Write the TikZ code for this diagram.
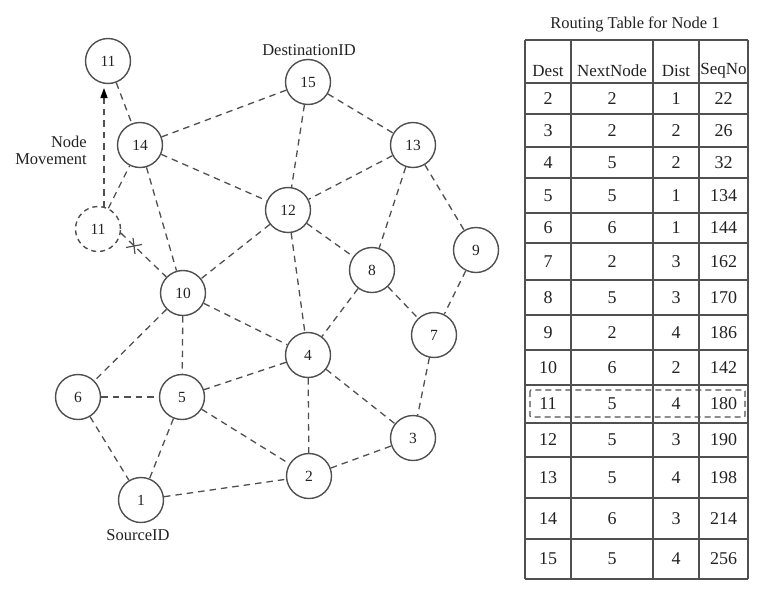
\documentclass[tikz,border=0pt]{standalone}
\usepackage{fontspec}
\setmainfont{Liberation Serif}
\usetikzlibrary{arrows.meta}
\definecolor{ink}{HTML}{222222}
\definecolor{edge}{HTML}{505050}
\begin{document}
\begin{tikzpicture}[x=1pt,y=-1pt,
  host/.style={circle,draw=edge,line width=1.4pt,minimum size=45pt,inner sep=0pt,
    text=ink,font=\fontsize{15.5}{15.5}\selectfont},
  ghost/.style={host,dash pattern=on 5pt off 4pt},
  link/.style={draw=edge,line width=1.3pt,dash pattern=on 6.5pt off 5pt},
  lbl/.style={text=ink,inner sep=0pt,font=\fontsize{16.5}{17}\selectfont},
  cell/.style={text=ink,inner sep=0pt,font=\fontsize{18}{19}\selectfont},
  head/.style={text=ink,inner sep=0pt,font=\fontsize{17}{19}\selectfont},
  rule/.style={draw=edge,line width=1.5pt}
]
\useasboundingbox (0,0) rectangle (770,600);

% ---------- network ----------
\node[host]  (n11)  at (108,61)  {11};
\node[host]  (n14)  at (140,145) {14};
\node[ghost] (n11d) at (98,229)  {11};
\node[host]  (n15)  at (308,82)  {15};
\node[host]  (n13)  at (413,145) {13};
\node[host]  (n12)  at (288,210) {12};
\node[host]  (n9)   at (476,250) {9};
\node[host]  (n8)   at (372,270) {8};
\node[host]  (n10)  at (183,293) {10};
\node[host]  (n7)   at (434,335) {7};
\node[host]  (n4)   at (308,355) {4};
\node[host]  (n6)   at (78,397)  {6};
\node[host]  (n5)   at (182,397) {5};
\node[host]  (n3)   at (413,438) {3};
\node[host]  (n2)   at (309,476) {2};
\node[host]  (n1)   at (141,500) {1};

\foreach \a/\b in {n11/n14, n14/n15, n14/n12, n14/n10, n11d/n14,
                   n15/n12, n15/n13, n13/n12, n13/n8, n13/n9,
                   n12/n10, n12/n8, n12/n4, n8/n4, n8/n7, n9/n7,
                   n10/n4, n10/n6, n10/n5, n4/n5, n4/n2, n4/n3, n7/n3,
                   n6/n5, n6/n1, n5/n1, n5/n2, n1/n2, n2/n3}
  \draw[link] (\a) -- (\b);

% broken link of the moved node, marked with a cross
\draw[link] (n11d.-10) -- (n10);
\coordinate (cut) at (134,246);
\draw[edge,line width=1.2pt]
  ([shift={(-8,1.5)}]cut) -- ([shift={(8,-1.5)}]cut)
  ([shift={(-1,-8)}]cut) -- ([shift={(1,8)}]cut);

% movement of node 11
\coordinate (mvS) at (104,207);
\coordinate (mvE) at (104,88);
\draw[link,-{Triangle[length=10pt,width=7pt,fill=black,color=black]}] (mvS) -- (mvE);
\node[lbl,align=right,anchor=east] (mvlbl) at (87,150) {Node\\Movement};

\node[lbl] (dst) at (309,50)  {DestinationID};
\node[lbl] (src) at (138,535) {SourceID};

% ---------- routing table ----------
\node[lbl] (ttl) at (635,24) {Routing Table for Node 1};

\foreach \y in {40,83,114,147,178,213,243,280,315,350,385,423,457,498,539,579}
  \draw[rule] (525,\y) -- (748,\y);
\foreach \x in {525,571,653,699,748}
  \draw[rule] (\x,40) -- (\x,579);

\node[head] (hD) at (548,71)   {Dest};
\node[head] (hN) at (612,71)   {NextNode};
\node[head] (hS) at (676,71)   {Dist};
\node[head] (hQ) at (723.5,71) {SeqNo};

\foreach \d/\nh/\ds/\sq/\ya/\yb in {
    2/2/1/22/83/114, 3/2/2/26/114/147, 4/5/2/32/147/178,
    5/5/1/134/178/213, 6/6/1/144/213/243, 7/2/3/162/243/280,
    8/5/3/170/280/315, 9/2/4/186/315/350, 10/6/2/142/350/385,
    11/5/4/180/385/423, 12/5/3/190/423/457, 13/5/4/198/457/498,
    14/6/3/214/498/539, 15/5/4/256/539/579}{
  \node[cell] (cD\d) at (548,{(\ya+\yb)/2})   {\d};
  \node[cell] (cN\d) at (612,{(\ya+\yb)/2})   {\nh};
  \node[cell] (cS\d) at (676,{(\ya+\yb)/2})   {\ds};
  \node[cell] (cQ\d) at (723.5,{(\ya+\yb)/2}) {\sq};
}

% entry changed by the movement
\draw[draw=edge,line width=1.2pt,dash pattern=on 6pt off 4pt,rounded corners=1pt]
  (530,390) rectangle (745,417);
\end{tikzpicture}
\end{document}
